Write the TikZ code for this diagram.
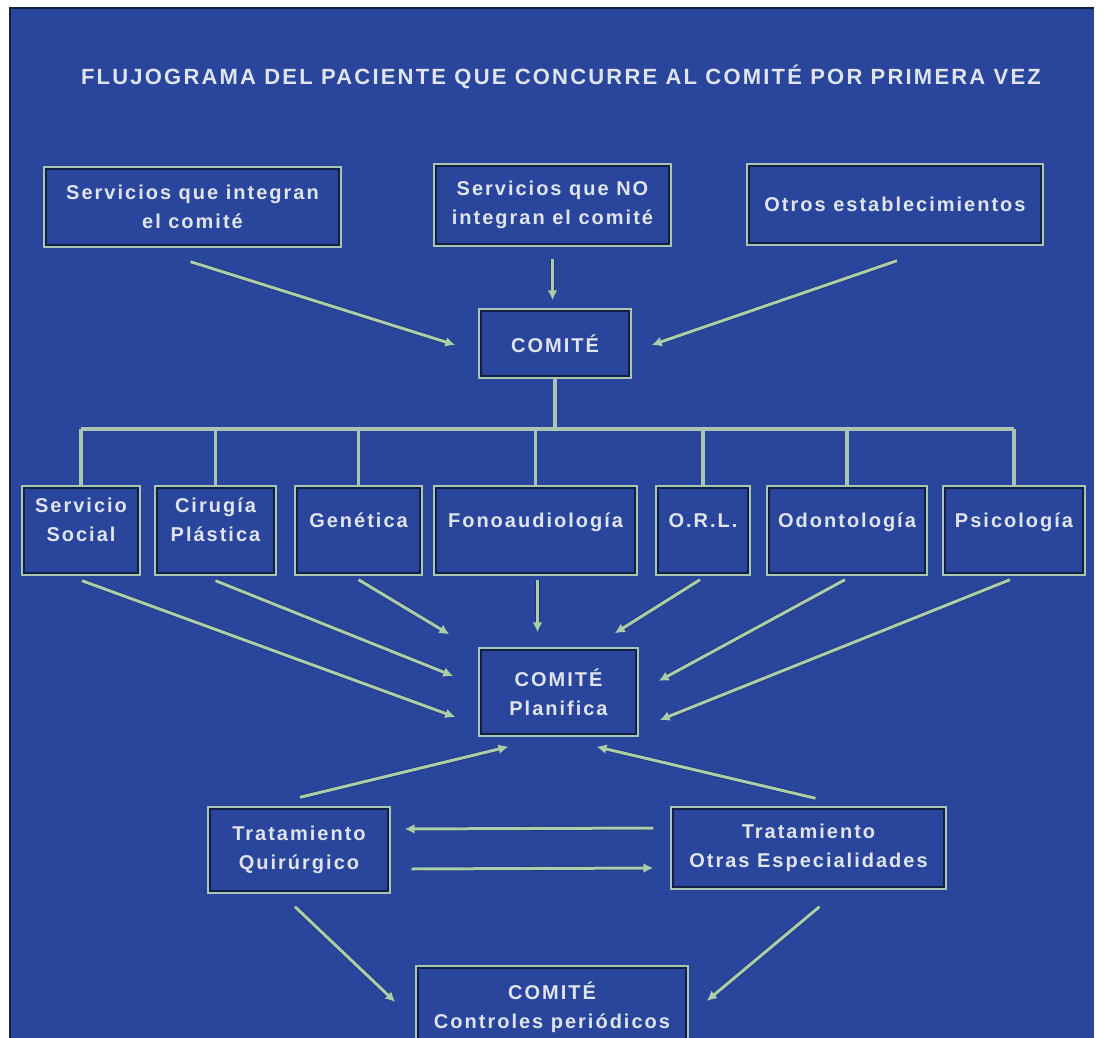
\documentclass[tikz,border=0pt]{standalone}
\usepackage{fontspec}
\setmainfont{Liberation Sans}[LetterSpace=10]
\usetikzlibrary{arrows.meta}
\definecolor{bgc}{RGB}{42,70,156}
\definecolor{linec}{RGB}{168,198,178}
\definecolor{arrc}{RGB}{170,205,170}
\definecolor{textc}{RGB}{224,228,236}
\definecolor{darkc}{RGB}{18,32,70}
\newcommand\rowtxt[1]{\raisebox{4pt}[0pt][0pt]{\begin{tabular}{@{}c@{}}#1\end{tabular}}}
\tikzset{
  box/.style={draw=linec, line width=3.4pt, text=textc, align=center, inner sep=0pt,
    font=\bfseries\fontsize{20}{29}\selectfont},
  conn/.style={draw=linec, line width=3.2pt},
  arr/.style={draw=arrc, line width=3pt, -{Latex[length=10pt,width=10pt]},
    preaction={draw=darkc, line width=4.6pt, opacity=0.4}},
  titlefont/.style={text=textc, font=\bfseries\fontsize{22}{26}\selectfont}
}
\begin{document}
\begin{tikzpicture}[x=1pt,y=-1pt]
\useasboundingbox (0,0) rectangle (1104,1038);
\fill[white] (0,0) rectangle (1104,1038);
\fill[bgc] (10,8) rectangle (1094,1038);
\draw[darkc, line width=2pt] (10,1038) -- (10,8) -- (1094,8);

\node[titlefont] (title) at (561,77) {FLUJOGRAMA DEL PACIENTE QUE CONCURRE AL COMITÉ POR PRIMERA VEZ};

% top row
\node[box, minimum width=295pt, minimum height=78pt] (s1) at (192.5,207) {Servicios que integran\\el comité};
\node[box, minimum width=235pt, minimum height=80pt] (s2) at (552.5,205) {Servicios que NO\\integran el comité};
\node[box, minimum width=294pt, minimum height=79pt] (s3) at (895,204.5) {Otros establecimientos};
\node[box, minimum width=150pt, minimum height=67pt] (comite) at (555,343.5) {COMITÉ};

% second row
\node[box, minimum width=116pt, minimum height=87pt] (ss) at (81,530.5) {\rowtxt{Servicio\\Social}};
\node[box, minimum width=119pt, minimum height=87pt] (cp) at (215.5,530.5) {\rowtxt{Cirugía\\Plástica}};
\node[box, minimum width=125pt, minimum height=87pt] (gen) at (358.5,530.5) {\rowtxt{Genética}};
\node[box, minimum width=201pt, minimum height=87pt] (fono) at (535.5,530.5) {\rowtxt{Fonoaudiología}};
\node[box, minimum width=92pt, minimum height=87pt] (orl) at (703,530.5) {\rowtxt{O.R.L.}};
\node[box, minimum width=158pt, minimum height=87pt] (odo) at (847,530.5) {\rowtxt{Odontología}};
\node[box, minimum width=140pt, minimum height=87pt] (psi) at (1014,530.5) {\rowtxt{Psicología}};

\node[box, minimum width=157pt, minimum height=86pt] (plan) at (558.5,692) {COMITÉ\\Planifica};
\node[box, minimum width=180pt, minimum height=84pt] (tq) at (299,850) {Tratamiento\\Quirúrgico};
\node[box, minimum width=273pt, minimum height=80pt] (to) at (808.5,848) {Tratamiento\\Otras Especialidades};
\node[box, minimum width=270pt, minimum height=80pt] (ctrl) at (552,1007) {COMITÉ\\Controles periódicos};

% inner dark lines of the boxes
\foreach \n in {s1,s2,s3,comite,ss,cp,gen,fono,orl,odo,psi,plan,tq,to,ctrl}
  \draw[darkc, line width=1.4pt] ([shift={(2.8pt,-2.8pt)}]\n.north west) rectangle ([shift={(-2.8pt,2.8pt)}]\n.south east);

% tree from COMITE
\coordinate (bus) at (555,429);
\draw[conn] (comite.south) -- (bus);
\draw[conn] (ss.north |- bus) -- (psi.north |- bus);
\foreach \n in {ss,cp,gen,fono,orl,odo,psi}
  \draw[conn] (\n.north) -- (\n.north |- bus);

% arrows into COMITE
\draw[arr] ([shift={(-2,14)}]s1.south) -- ([shift={(-23,1.5)}]comite.west);
\draw[arr] ([shift={(0,12)}]s2.south) -- ([shift={(0,-8)}]s2.south |- comite.north);
\draw[arr] ([shift={(2,15)}]s3.south) -- ([shift={(20,1.5)}]comite.east);

% arrows into COMITE Planifica
\draw[arr] ([shift={(1,5)}]ss.south) -- ([shift={(-23,25)}]plan.west);
\draw[arr] ([shift={(0,5)}]cp.south) -- ([shift={(-25,-16)}]plan.west);
\draw[arr] ([shift={(0,4)}]gen.south) -- ([shift={(-29,-13)}]plan.north west);
\draw[arr] ([shift={(2,4)}]fono.south) -- ([shift={(2,-15)}]fono.south |- plan.north);
\draw[arr] ([shift={(-3,4)}]orl.south) -- ([shift={(-24,-14)}]plan.north east);
\draw[arr] ([shift={(-2,4)}]odo.south) -- ([shift={(20,-11)}]plan.east);
\draw[arr] ([shift={(-4,4)}]psi.south) -- ([shift={(21,28)}]plan.east);

% treatments to Planifica
\draw[arr] ([shift={(1,-9)}]tq.north) -- ([shift={(-50,10)}]plan.south);
\draw[arr] ([shift={(7,-8)}]to.north) -- ([shift={(38,10)}]plan.south);

% between treatments
\draw[arr] ([shift={(-17,-20)}]to.west) -- ([shift={(14,-21)}]tq.east);
\draw[arr] ([shift={(21,19)}]tq.east) -- ([shift={(-17,20)}]to.west);

% to controls
\draw[arr] ([shift={(-4,13)}]tq.south) -- ([shift={(-20,-5)}]ctrl.west);
\draw[arr] ([shift={(11,17)}]to.south) -- ([shift={(18,-6)}]ctrl.east);
\end{tikzpicture}
\end{document}
